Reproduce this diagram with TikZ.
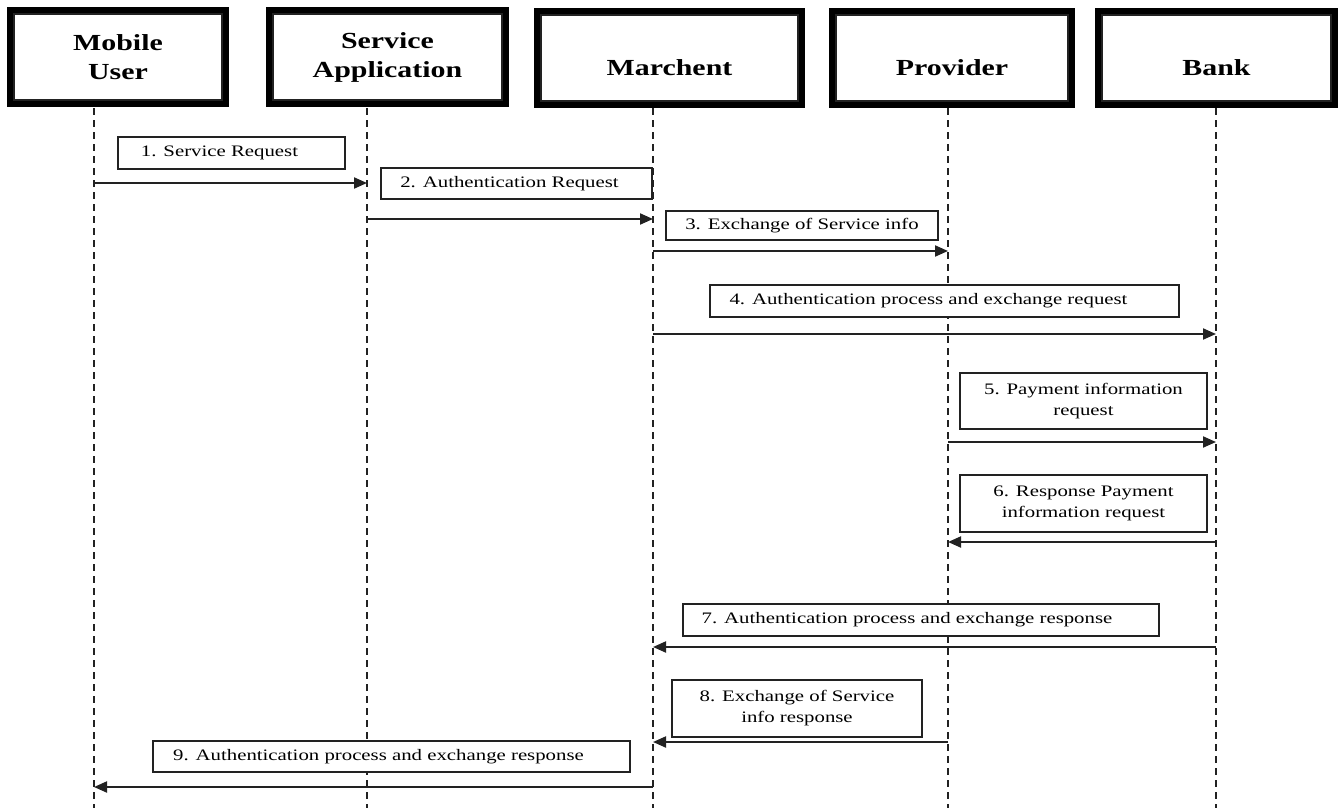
\documentclass[tikz,border=0pt]{standalone}
\usepackage{fontspec}
\setmainfont{Liberation Serif}[FakeStretch=1.3]
\usetikzlibrary{arrows.meta}
\definecolor{ln}{HTML}{222222}
\newcommand\lblshiftleft[2]{\hspace*{-#1}#2}
\begin{document}
\begin{tikzpicture}[x=1pt,y=-1pt,
  hdr/.style={draw=black, line width=8pt, fill=white, minimum height=92pt, inner sep=0pt, align=center, font=\fontsize{23}{29}\selectfont\bfseries},
  lowtxt/.style={text height=34pt, text depth=0pt},
  lbl/.style={draw=ln, line width=1.8pt, fill=white, inner sep=0pt, align=center, font=\fontsize{16}{21}\selectfont},
  life/.style={draw=ln, line width=2.7pt, dash pattern=on 7pt off 5pt},
  msg/.style={draw=ln, line width=2pt, -{Triangle[length=13pt,width=11pt]}},
  inner/.style={draw=ln, line width=1.4pt}
]
\useasboundingbox (0,0) rectangle (1339,808);

% headers
\node[hdr, minimum width=214pt] (mu) at (118,57) {Mobile\\User};
\node[hdr, minimum width=235pt] (sa) at (387.5,57) {Service\\Application};
\node[hdr, lowtxt, minimum width=263pt] (mc) at (669.5,58) {Marchent};
\node[hdr, lowtxt, minimum width=238pt] (pv) at (952,58) {Provider};
\node[hdr, lowtxt, minimum width=235pt] (bk) at (1216.5,58) {Bank};
\foreach \n in {mu,sa,mc,pv,bk}
  \draw[inner] ([shift={(7,7)}]\n.north west) rectangle ([shift={(-7,-7)}]\n.south east);

% lifelines
\coordinate (muL) at (94,108);   \coordinate (muE) at (94,808);
\coordinate (saL) at (367,108);  \coordinate (saE) at (367,808);
\coordinate (mcL) at (653,108);  \coordinate (mcE) at (653,808);
\coordinate (pvL) at (948,108);  \coordinate (pvE) at (948,808);
\coordinate (bkL) at (1216,108); \coordinate (bkE) at (1216,808);
\foreach \n in {mu,sa,mc,pv,bk}
  \draw[life] (\n L) -- (\n E);

% labels
\node[lbl, minimum width=227pt, minimum height=32pt] (t1) at (231.5,153) {\lblshiftleft{24pt}{1. Service Request}};
\node[lbl, minimum width=271pt, minimum height=31pt] (t2) at (516.5,183.5) {\lblshiftleft{14pt}{2. Authentication Request}};
\node[lbl, minimum width=272pt, minimum height=29pt] (t3) at (802,225.5) {3. Exchange of Service info};
\node[lbl, minimum width=469pt, minimum height=32pt] (t4) at (944.5,301) {\lblshiftleft{32pt}{4. Authentication process and exchange request}};
\node[lbl, minimum width=247pt, minimum height=56pt] (t5) at (1083.5,401) {5. Payment information\\request};
\node[lbl, minimum width=247pt, minimum height=57pt] (t6) at (1083.5,503.5) {6. Response Payment\\information request};
\node[lbl, minimum width=476pt, minimum height=32pt] (t7) at (921,620) {\lblshiftleft{28pt}{7. Authentication process and exchange response}};
\node[lbl, minimum width=250pt, minimum height=57pt] (t8) at (797,708.5) {8. Exchange of Service\\info response};
\node[lbl, minimum width=477pt, minimum height=31pt] (t9) at (391.5,756.5) {\lblshiftleft{26pt}{9. Authentication process and exchange response}};

% messages
\draw[msg] (muL |- 0,183) -- (saL |- 0,183);
\draw[msg] (saL |- 0,219) -- (mcL |- 0,219);
\draw[msg] (mcL |- 0,251) -- (pvL |- 0,251);
\draw[msg] (mcL |- 0,334) -- (bkL |- 0,334);
\draw[msg] (pvL |- 0,442) -- (bkL |- 0,442);
\draw[msg] (bkL |- 0,542) -- (pvL |- 0,542);
\draw[msg] (bkL |- 0,647) -- (mcL |- 0,647);
\draw[msg] (pvL |- 0,742) -- (mcL |- 0,742);
\draw[msg] (mcL |- 0,787) -- (muL |- 0,787);
\end{tikzpicture}
\end{document}
